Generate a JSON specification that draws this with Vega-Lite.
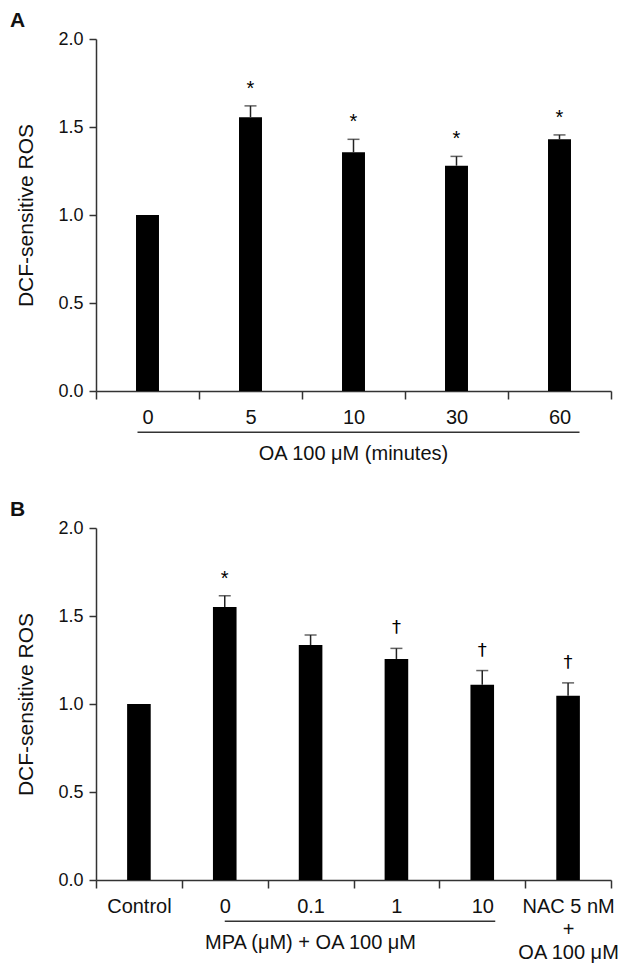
{
  "$schema": "https://vega.github.io/schema/vega-lite/v6.json",
  "padding": {"left": 10, "top": 10, "right": 5, "bottom": 2},
  "background": "white",
  "spacing": 137,
  "bounds": "flush",
  "config": {
    "view": {"stroke": null},
    "font": "Liberation Sans",
    "axis": {"grid": false, "domainColor": "#333", "tickColor": "#333", "labelColor": "#111", "titleColor": "#111", "domainWidth": 1.5, "tickWidth": 1.5, "titleFontWeight": "normal", "labelFont": "Liberation Sans", "titleFont": "Liberation Sans"},
    "title": {"font": "Liberation Sans"}
  },
  "datasets": {
    "a": [
      {"cond": "0", "mean": 1.0, "hi": 1.0, "sig": ""},
      {"cond": "5", "mean": 1.556, "hi": 1.62, "sig": "*"},
      {"cond": "10", "mean": 1.356, "hi": 1.43, "sig": "*"},
      {"cond": "30", "mean": 1.28, "hi": 1.333, "sig": "*"},
      {"cond": "60", "mean": 1.43, "hi": 1.455, "sig": "*"}
    ],
    "b": [
      {"cond": "Control", "mean": 1.0, "hi": 1.0, "sig": ""},
      {"cond": "0", "mean": 1.551, "hi": 1.615, "sig": "*"},
      {"cond": "0.1", "mean": 1.335, "hi": 1.392, "sig": ""},
      {"cond": "1", "mean": 1.256, "hi": 1.316, "sig": "†"},
      {"cond": "10", "mean": 1.11, "hi": 1.19, "sig": "†"},
      {"cond": "NAC 5 nM + OA 100 μM", "mean": 1.047, "hi": 1.12, "sig": "†"}
    ]
  },
  "resolve": {"scale": {"x": "independent", "y": "independent"}},
  "vconcat": [
    {
      "width": 515,
      "height": 352,
      "title": {"text": "A", "anchor": "start", "frame": "group", "dx": -86, "offset": -18, "baseline": "alphabetic", "fontSize": 21, "fontWeight": "bold", "color": "#111"},
      "data": {"name": "a"},
      "encoding": {
        "x": {
          "field": "cond", "type": "nominal", "sort": null,
          "scale": {"domain": ["0", "5", "10", "30", "60"], "paddingInner": 0, "paddingOuter": 0},
          "axis": {"title": "OA 100 μM (minutes)", "labelAngle": 0, "tickBand": "extent", "tickSize": 8, "labelPadding": 8, "labelFontSize": 20, "titleFontSize": 20, "titleX": 257, "titleY": 68, "titleBaseline": "alphabetic"}
        }
      },
      "layer": [
        {
          "mark": {"type": "bar", "width": {"band": 0.223}, "color": "black"},
          "encoding": {
            "y": {"field": "mean", "type": "quantitative", "scale": {"domain": [0, 2], "nice": false},
              "axis": {"title": "DCF-sensitive ROS", "values": [0, 0.5, 1, 1.5, 2], "format": ".1f", "tickSize": 7, "labelPadding": 6, "labelFontSize": 18, "titleFontSize": 21, "titleX": -64, "titleBaseline": "alphabetic"}}
          }
        },
        {
          "transform": [{"filter": "datum.hi > datum.mean"}],
          "mark": {"type": "rule", "color": "#222", "strokeWidth": 1.5},
          "encoding": {"y": {"field": "mean", "type": "quantitative"}, "y2": {"field": "hi"}}
        },
        {
          "transform": [{"filter": "datum.hi > datum.mean"}],
          "mark": {"type": "tick", "orient": "horizontal", "size": 12, "thickness": 1.5, "color": "#222"},
          "encoding": {"y": {"field": "hi", "type": "quantitative"}}
        },
        {
          "transform": [{"filter": "datum.sig == '*'"}],
          "mark": {"type": "text", "dy": -11, "fontSize": 20, "baseline": "alphabetic", "color": "#000"},
          "encoding": {"y": {"field": "hi", "type": "quantitative"}, "text": {"field": "sig"}}
        },
        {
          "data": {"values": [{"from": "0", "to": "60"}]},
          "mark": {"type": "rule", "xOffset": -10, "x2Offset": 20, "strokeWidth": 1.5, "color": "#333"},
          "encoding": {"x": {"field": "from", "type": "nominal"}, "x2": {"field": "to"}, "y": {"datum": -0.235}}
        }
      ]
    },
    {
      "width": 515,
      "height": 352,
      "title": {"text": "B", "anchor": "start", "frame": "group", "dx": -86, "offset": -18, "baseline": "alphabetic", "fontSize": 21, "fontWeight": "bold", "color": "#111"},
      "data": {"name": "b"},
      "encoding": {
        "x": {
          "field": "cond", "type": "nominal", "sort": null,
          "scale": {"domain": ["Control", "0", "0.1", "1", "10", "NAC 5 nM + OA 100 μM"], "paddingInner": 0, "paddingOuter": 0},
          "axis": {"title": "MPA (μM) + OA 100 μM", "labelAngle": 0, "tickBand": "extent", "tickSize": 8, "labelPadding": 8, "labelFontSize": 20, "labelLineHeight": 23, "titleFontSize": 20, "titleX": 214, "titleY": 68, "titleBaseline": "alphabetic",
            "labelExpr": "datum.label == 'NAC 5 nM + OA 100 μM' ? ['NAC 5 nM', '+', 'OA 100 μM'] : datum.label"}
        }
      },
      "layer": [
        {
          "mark": {"type": "bar", "width": {"band": 0.275}, "color": "black"},
          "encoding": {
            "y": {"field": "mean", "type": "quantitative", "scale": {"domain": [0, 2], "nice": false},
              "axis": {"title": "DCF-sensitive ROS", "values": [0, 0.5, 1, 1.5, 2], "format": ".1f", "tickSize": 7, "labelPadding": 6, "labelFontSize": 18, "titleFontSize": 21, "titleX": -64, "titleBaseline": "alphabetic"}}
          }
        },
        {
          "transform": [{"filter": "datum.hi > datum.mean"}],
          "mark": {"type": "rule", "color": "#222", "strokeWidth": 1.5},
          "encoding": {"y": {"field": "mean", "type": "quantitative"}, "y2": {"field": "hi"}}
        },
        {
          "transform": [{"filter": "datum.hi > datum.mean"}],
          "mark": {"type": "tick", "orient": "horizontal", "size": 12, "thickness": 1.5, "color": "#222"},
          "encoding": {"y": {"field": "hi", "type": "quantitative"}}
        },
        {
          "transform": [{"filter": "datum.sig == '*'"}],
          "mark": {"type": "text", "dy": -11, "fontSize": 20, "baseline": "alphabetic", "color": "#000"},
          "encoding": {"y": {"field": "hi", "type": "quantitative"}, "text": {"field": "sig"}}
        },
        {
          "transform": [{"filter": "datum.sig == '†'"}],
          "mark": {"type": "text", "dy": -15, "fontSize": 18, "baseline": "alphabetic", "color": "#000", "font": "DejaVu Sans"},
          "encoding": {"y": {"field": "hi", "type": "quantitative"}, "text": {"field": "sig"}}
        },
        {
          "data": {"values": [{"from": "0", "to": "10"}]},
          "mark": {"type": "rule", "xOffset": 0, "x2Offset": 13, "strokeWidth": 1.5, "color": "#333"},
          "encoding": {"x": {"field": "from", "type": "nominal"}, "x2": {"field": "to"}, "y": {"datum": -0.235}}
        }
      ]
    }
  ]
}
